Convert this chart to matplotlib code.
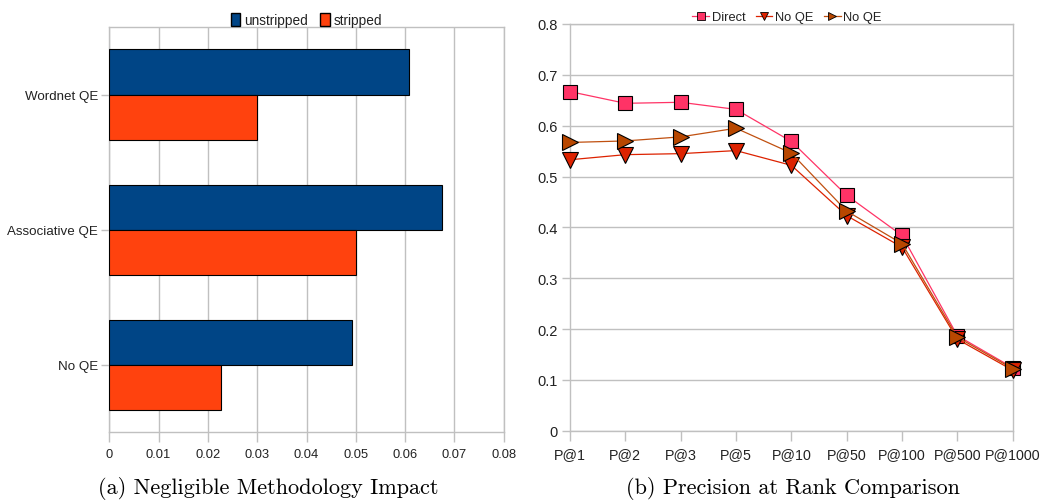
import matplotlib
matplotlib.use("Agg")
import matplotlib.pyplot as plt
from matplotlib.patches import Patch
from matplotlib.lines import Line2D

# ---- data: left panel (methodology impact) ----
methods = ["No QE", "Associative QE", "Wordnet QE"]
unstripped = [0.0493, 0.0674, 0.0607]
stripped = [0.0227, 0.0500, 0.0300]
bar_ticks = [0, 0.01, 0.02, 0.03, 0.04, 0.05, 0.06, 0.07, 0.08]

# ---- data: right panel (precision at rank) ----
ranks = ["P@1", "P@2", "P@3", "P@5", "P@10", "P@50", "P@100", "P@500", "P@1000"]
direct = [0.667, 0.644, 0.646, 0.632, 0.569, 0.463, 0.384, 0.187, 0.124]
no_qe_a = [0.533, 0.543, 0.545, 0.551, 0.522, 0.423, 0.361, 0.180, 0.119]
no_qe_b = [0.567, 0.570, 0.578, 0.595, 0.546, 0.432, 0.368, 0.184, 0.122]
prec_ticks = [0, 0.1, 0.2, 0.3, 0.4, 0.5, 0.6, 0.7, 0.8]

SANS = ["Liberation Sans", "DejaVu Sans"]
GRID = "#c0c0c0"
INK = "#222222"

fig = plt.figure(figsize=(10.44, 5.02), dpi=100)

# ---------------- left: horizontal bars ----------------
ax1 = fig.add_axes([0.1047, 0.1369, 0.3778, 0.8074])
h = 1 / 3
ypos = list(range(len(methods)))
ax1.barh([y + h / 2 for y in ypos], unstripped, height=h, color="#004586",
         edgecolor="black", linewidth=0.8, label="unstripped", zorder=3)
ax1.barh([y - h / 2 for y in ypos], stripped, height=h, color="#ff420e",
         edgecolor="black", linewidth=0.8, label="stripped", zorder=3)
ax1.set_xlim(0, 0.08)
ax1.set_ylim(-0.5, 2.5)
ax1.set_xticks(bar_ticks)
ax1.set_xticklabels([f"{t:g}" for t in bar_ticks], family=SANS, fontsize=9.3)
ax1.set_yticks(ypos)
ax1.set_yticklabels(methods, family=SANS, fontsize=9.6, color=INK)
ax1.xaxis.grid(True, color=GRID, linewidth=1.0, zorder=0)
ax1.set_axisbelow(True)
for s in ax1.spines.values():
    s.set_color(GRID)
    s.set_linewidth(1.0)
ax1.tick_params(axis="x", length=7, width=1, color=GRID, pad=4, labelcolor=INK)
ax1.tick_params(axis="y", length=6, width=1, color=GRID, pad=2)
leg1 = ax1.legend(handles=[Patch(facecolor="#004586", edgecolor="black", label="unstripped"),
                           Patch(facecolor="#ff420e", edgecolor="black", label="stripped")],
                  loc="center", bbox_to_anchor=(0.5, 1.017), ncol=2, frameon=False,
                  prop={"family": SANS, "size": 9.8}, handlelength=0.7, handleheight=1.0,
                  handletextpad=0.3, columnspacing=0.9, borderpad=0)
for t in leg1.get_texts():
    t.set_color(INK)

# ---------------- right: precision lines ----------------
ax2 = fig.add_axes([0.546, 0.140, 0.424, 0.8102])
xs = list(range(len(ranks)))
series = [
    (direct, "Direct", "s", "#ff3366", "#ff3366", 10.5),
    (no_qe_a, "No QE", "v", "#dd2200", "#dd2200", 11.5),
    (no_qe_b, "No QE", ">", "#b84700", "#c05010", 11.5),
]
handles = []
for vals, name, mk, fc, lc, ms in series:
    ax2.plot(xs, vals, color=lc, linewidth=0.9, marker=mk, markersize=ms,
             markerfacecolor=fc, markeredgecolor="black", markeredgewidth=0.8,
             clip_on=False, zorder=3)
    handles.append(Line2D([0], [0], color=lc, linewidth=0.9, marker=mk, markersize=6,
                          markerfacecolor=fc, markeredgecolor="black",
                          markeredgewidth=0.6, label=name))
ax2.set_xlim(0, len(ranks) - 1)
ax2.set_ylim(0, 0.8)
ax2.set_xticks(xs)
ax2.set_xticklabels(ranks, family=SANS, fontsize=10.3, color=INK)
ax2.set_yticks(prec_ticks)
ax2.set_yticklabels([f"{t:g}" for t in prec_ticks], family=SANS, fontsize=10.5, color=INK)
ax2.yaxis.grid(True, color=GRID, linewidth=1.0, zorder=0)
ax2.set_axisbelow(True)
for s in ax2.spines.values():
    s.set_color(GRID)
    s.set_linewidth(1.0)
ax2.tick_params(axis="x", length=7, width=1, color=GRID, pad=5)
ax2.tick_params(axis="y", length=6, width=1, color=GRID, pad=3)
leg2 = ax2.legend(handles=handles, loc="center", bbox_to_anchor=(0.49, 1.017), ncol=3,
                  frameon=False, prop={"family": SANS, "size": 9.3}, handlelength=1.3,
                  handletextpad=0.2, columnspacing=0.8, borderpad=0)
for t in leg2.get_texts():
    t.set_color(INK)

# ---------------- captions ----------------
fig.text(268 / 1044, 1 - 489 / 502, "(a) Negligible Methodology Impact",
         ha="center", va="center", family="cmr10", fontsize=16)
fig.text(793 / 1044, 1 - 489 / 502, "(b) Precision at Rank Comparison",
         ha="center", va="center", family="cmr10", fontsize=16)

fig.savefig("out.png", dpi=100)
